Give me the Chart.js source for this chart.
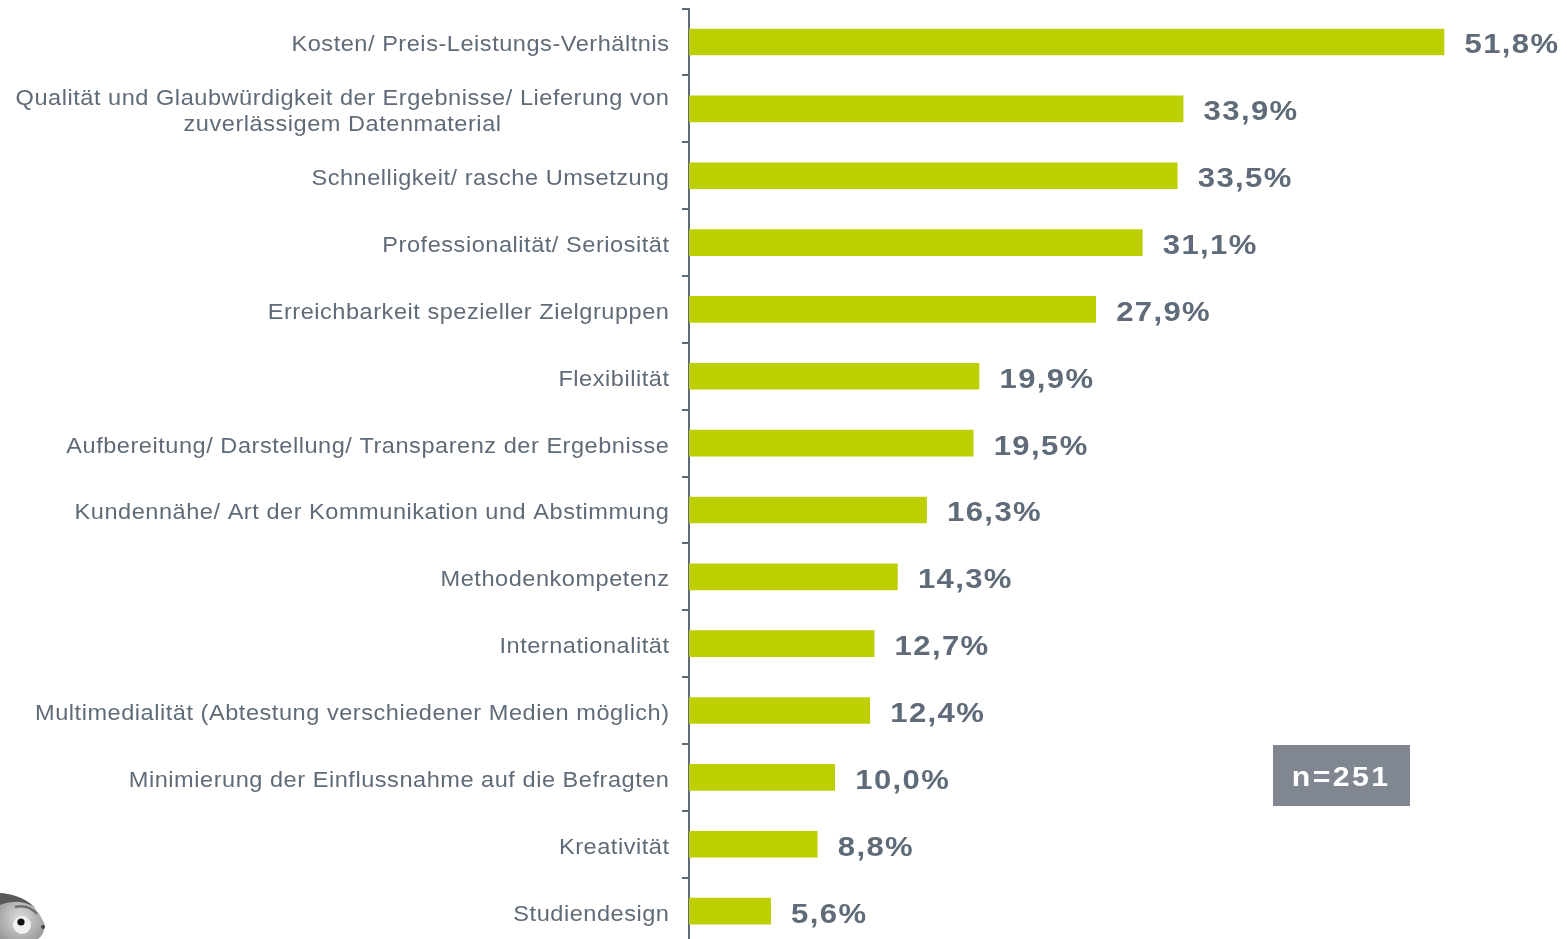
<!DOCTYPE html>
<html><head><meta charset="utf-8">
<style>
html,body{margin:0;padding:0;background:#fff;width:1567px;height:939px;overflow:hidden}
#wrap{position:relative;width:1567px;height:939px;overflow:hidden}
canvas{position:absolute;left:0;top:0}
#n{position:absolute;left:1273px;top:745px;width:137px;height:61px;background:#808790;color:#fff;font:bold 27px "Liberation Sans",sans-serif;letter-spacing:2.2px;line-height:64px;text-align:center}
#n span{display:inline-block;transform:scaleX(1.12)}
#m{position:absolute;left:0;top:885px}
</style>
<script src="https://cdn.jsdelivr.net/npm/chart.js@4"></script>
</head><body><div id="wrap">
<canvas id="c" width="1567" height="950"></canvas>
<svg id="m" width="60" height="54">
<defs><radialGradient id="g" cx="0.45" cy="0.55" r="0.6"><stop offset="0" stop-color="#dcdcdc"/><stop offset="1" stop-color="#9a9a9a"/></radialGradient></defs>
<path d="M0 8 Q26 10 40 30 L45 40 Q44 50 38 54 L0 54 Z" fill="url(#g)"/>
<path d="M0 8 Q24 10 36 24 Q22 12 0 20 Z" fill="#5a5a5a"/>
<path d="M15 22 Q28 19 37 29" stroke="#707070" stroke-width="2.5" fill="none"/>
<circle cx="22" cy="40" r="9" fill="#f0f0f0"/>
<circle cx="21" cy="37" r="3.6" fill="#111"/>
<circle cx="43" cy="42" r="2" fill="#444"/>
</svg>
<div id="n"><span>n=251</span></div>
</div>
<script>
const categories=[
 ["Kosten/ Preis-Leistungs-Verhältnis"],
 ["Qualität und Glaubwürdigkeit der Ergebnisse/ Lieferung von","zuverlässigem Datenmaterial"],
 ["Schnelligkeit/ rasche Umsetzung"],
 ["Professionalität/ Seriosität"],
 ["Erreichbarkeit spezieller Zielgruppen"],
 ["Flexibilität"],
 ["Aufbereitung/ Darstellung/ Transparenz der Ergebnisse"],
 ["Kundennähe/ Art der Kommunikation und Abstimmung"],
 ["Methodenkompetenz"],
 ["Internationalität"],
 ["Multimedialität (Abtestung verschiedener Medien möglich)"],
 ["Minimierung der Einflussnahme auf die Befragten"],
 ["Kreativität"],
 ["Studiendesign"]];
const values=[51.8,33.9,33.5,31.1,27.9,19.9,19.5,16.3,14.3,12.7,12.4,10.0,8.8,5.6];
const ink="#5f6b78";
const stretchedLabels={id:'stretchedLabels',afterDraw(ch){
  const c=ch.ctx,s=ch.scales.y;
  // category labels: block right-aligned, lines centred within the block
  c.save();c.letterSpacing='0.5px';c.font='22px "Liberation Sans",sans-serif';c.fillStyle=ink;
  c.textBaseline='middle';c.textAlign='center';
  const sx=1.07,right=669.5,lh=26;
  categories.forEach((lines,i)=>{
    const y=s.getPixelForTick(i)+3.4;
    const w=Math.max(...lines.map(t=>c.measureText(t).width));
    lines.forEach((t,k)=>{
      c.save();c.translate(right-w*sx/2,y+(k-(lines.length-1)/2)*lh);c.scale(sx,1);c.fillText(t,0,0);c.restore();
    });
  });
  c.restore();
  // value labels
  c.save();c.letterSpacing='1.2px';c.font='bold 27px "Liberation Sans",sans-serif';c.fillStyle=ink;
  c.textAlign='left';c.textBaseline='middle';
  ch.getDatasetMeta(0).data.forEach((b,i)=>{
    c.save();c.translate(b.x+20.5,b.y+4);c.scale(1.15,1);
    c.fillText(values[i].toFixed(1).replace('.',',')+'%',0,0);c.restore();
  });
  c.restore();
}};
new Chart(document.getElementById('c'),{
 type:'bar',
 data:{labels:categories.map(l=>l.join(' ')),datasets:[{data:values,backgroundColor:'#becf00',barThickness:26,borderWidth:0}]},
 options:{indexAxis:'y',responsive:false,animation:false,
  layout:{padding:{top:8.6,bottom:5.5,left:0,right:3.5}},
  plugins:{legend:{display:false},tooltip:{enabled:false},title:{display:false}},
  scales:{
   x:{display:false,min:0,max:60},
   y:{position:'left',
      afterFit(s){s.width=689;s.paddingTop=0;s.paddingBottom=0;},
      border:{display:true,color:ink,width:2},
      grid:{drawOnChartArea:false,drawTicks:true,tickLength:7,color:ink,lineWidth:2,offset:true},
      ticks:{display:false,autoSkip:false}}
  }},
 plugins:[stretchedLabels]
});
</script></body></html>
